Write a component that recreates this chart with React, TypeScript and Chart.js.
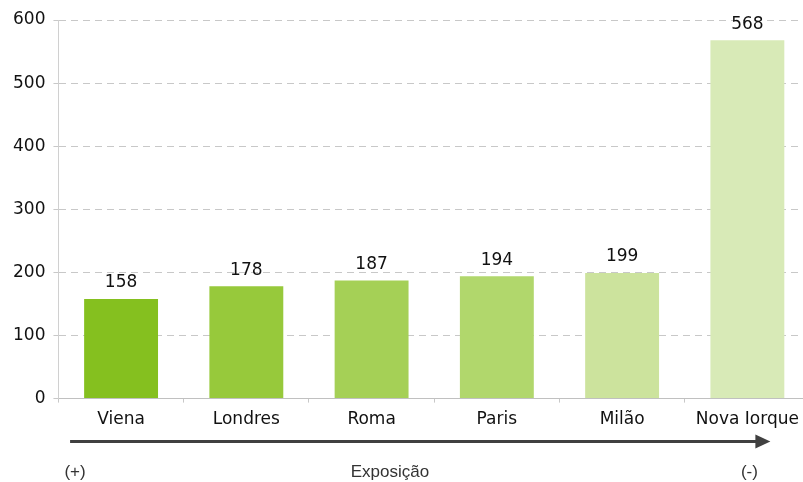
import React, { useEffect, useRef } from "react";
import { Chart, registerables } from "chart.js";

Chart.register(...registerables);

const categories = ["Viena", "Londres", "Roma", "Paris", "Milão", "Nova Iorque"];
const values = [158, 178, 187, 194, 199, 568];
const barColors = ["#85c01f", "#97c93b", "#a5d056", "#b1d76c", "#cce39d", "#d8eab7"];
const yTicks = [0, 100, 200, 300, 400, 500, 600];
const axisTitle = "Exposição";
const leftMark = "(+)";
const rightMark = "(-)";

const W = 810;
const H = 482;

const overlayPlugin = {
  id: "overlay",
  afterDatasetsDraw(chart: any) {
    const ctx = chart.ctx;
    const meta = chart.getDatasetMeta(0);
    ctx.save();
    ctx.font = "17px 'DejaVu Sans'";
    ctx.fillStyle = "#111";
    ctx.textAlign = "center";
    ctx.textBaseline = "middle";
    meta.data.forEach((bar: any, i: number) => {
      ctx.fillText(String(values[i]), bar.x, bar.y - 16);
    });
    ctx.restore();
  },
  afterDraw(chart: any) {
    const ctx = chart.ctx;
    const area = chart.chartArea;
    const xs = chart.scales.x;
    const first = xs.getPixelForValue(0);
    const last = xs.getPixelForValue(categories.length - 1);
    const y = area.bottom + 43;
    const x0 = first - 51;
    const x1 = last + 23;
    ctx.save();
    ctx.strokeStyle = "#404040";
    ctx.fillStyle = "#404040";
    ctx.lineWidth = 3;
    ctx.beginPath();
    ctx.moveTo(x0, y);
    ctx.lineTo(x1 - 12, y);
    ctx.stroke();
    ctx.beginPath();
    ctx.moveTo(x1, y);
    ctx.lineTo(x1 - 15, y - 7);
    ctx.lineTo(x1 - 15, y + 7);
    ctx.closePath();
    ctx.fill();
    ctx.font = "17px 'Liberation Sans', Arial, sans-serif";
    ctx.fillStyle = "#333";
    ctx.textAlign = "center";
    ctx.textBaseline = "alphabetic";
    ctx.fillText(axisTitle, 390, 477);
    ctx.fillText(leftMark, first - 46, 477);
    ctx.fillText(rightMark, last + 2, 477);
    ctx.restore();
  },
};

export default function App() {
  const ref = useRef<HTMLCanvasElement>(null);
  useEffect(() => {
    if (!ref.current) return;
    const chart = new Chart(ref.current, {
      type: "bar",
      data: {
        labels: categories,
        datasets: [
          {
            data: values,
            backgroundColor: barColors,
            borderWidth: 0,
            barPercentage: 0.59,
            categoryPercentage: 1,
          },
        ],
      },
      options: {
        animation: false,
        responsive: false,
        devicePixelRatio: 1,
        layout: { padding: { top: 20, left: 5, right: 0, bottom: 45 } },
        plugins: { legend: { display: false }, tooltip: { enabled: false } },
        scales: {
          x: {
            grid: {
              display: true,
              drawOnChartArea: false,
              drawTicks: true,
              tickLength: 4,
              offset: true,
              color: "#c8c8c8",
            },
            border: { display: true, color: "#c0c0c0", width: 1 },
            ticks: {
              font: { family: "'DejaVu Sans'", size: 17 },
              color: "#111",
              padding: 7,
              maxRotation: 0,
            },
          },
          y: {
            min: 0,
            max: 600,
            afterBuildTicks: (axis: any) => {
              axis.ticks = yTicks.map((v) => ({ value: v }));
            },
            grid: {
              color: "#c8c8c8",
              tickLength: 5,
              lineWidth: 1,
            },
            border: { display: true, color: "#d0d0d0", width: 1, dash: [7, 5] },
            ticks: {
              font: { family: "'DejaVu Sans'", size: 17 },
              color: "#111",
              padding: 8,
            },
          },
        },
      },
      plugins: [overlayPlugin],
    });
    return () => chart.destroy();
  }, []);
  return (
    <div
      style={{
        position: "fixed",
        left: 0,
        top: 0,
        width: 803,
        height: 482,
        overflow: "hidden",
        background: "#fff",
      }}
    >
      <canvas ref={ref} width={W} height={H} style={{ display: "block" }} />
    </div>
  );
}
